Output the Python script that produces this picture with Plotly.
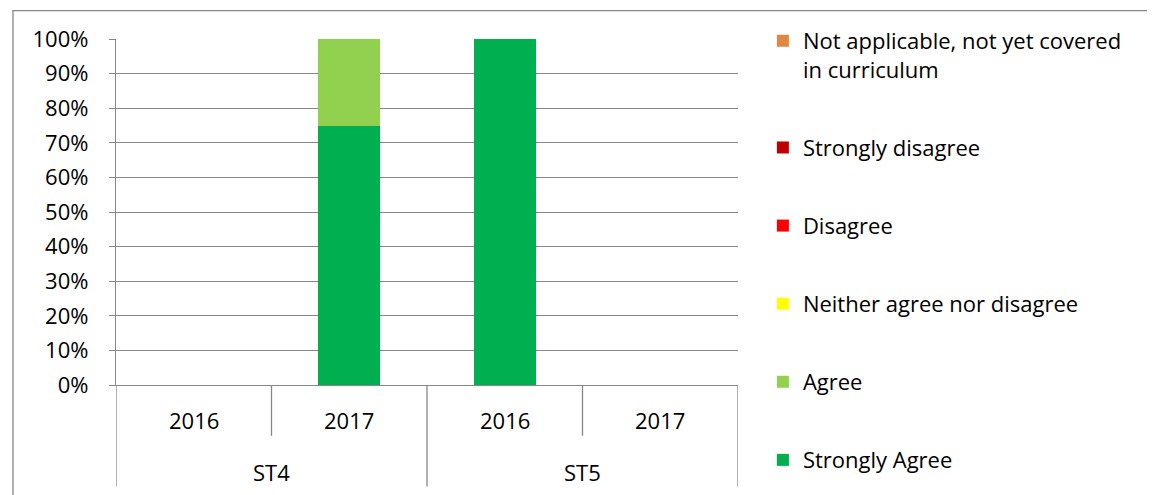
import plotly.graph_objects as go

# data
groups = ["ST4", "ST4", "ST5", "ST5"]
years = ["2016", "2017", "2016", "2017"]
responses = [
    "Strongly Agree",
    "Agree",
    "Neither agree nor disagree",
    "Disagree",
    "Strongly disagree",
    "Not applicable, not yet covered<br>in curriculum",
]
colors = ["#00B050", "#92D050", "#FFFF00", "#FF0000", "#C00000", "#E2873F"]
strongly_agree = [0.0, 0.75, 1.0, 0.0]
agree = [0.0, 0.25, 0.0, 0.0]
neither = [0.0, 0.0, 0.0, 0.0]
disagree = [0.0, 0.0, 0.0, 0.0]
strongly_disagree = [0.0, 0.0, 0.0, 0.0]
not_applicable = [0.0, 0.0, 0.0, 0.0]
series = [strongly_agree, agree, neither, disagree, strongly_disagree, not_applicable]

FONT = "Open Sans"
GRID = "#878787"
x_pos = list(range(len(years)))

fig = go.Figure()
for i, (name, vals, col) in enumerate(zip(responses, series, colors)):
    fig.add_trace(go.Bar(
        x=x_pos, y=vals, name=name, legendgroup=name,
        legendrank=len(responses) - i,
        marker=dict(color=col, line=dict(width=0)),
        width=0.4,
    ))

# category labels (two levels) under the axis
annotations = []
for i, yr in enumerate(years):
    annotations.append(dict(x=i, y=-0.1006, xref="x", yref="paper", text=yr,
                            yanchor="middle", showarrow=False))
group_names = list(dict.fromkeys(groups))
for g in group_names:
    idx = [i for i, v in enumerate(groups) if v == g]
    annotations.append(dict(x=sum(idx) / len(idx), y=-0.25, xref="x", yref="paper",
                            text=g, yanchor="middle", showarrow=False))

# divider lines between categories
shapes = []
for i in range(len(years) + 1):
    b = i - 0.5
    if i == 0 or i == len(years) or groups[i] != groups[i - 1]:
        y0 = -0.293
    else:
        y0 = -0.1466
    shapes.append(dict(type="line", xref="x", yref="paper", x0=b, x1=b, y0=0, y1=y0,
                       line=dict(color=GRID, width=1.3)))
# chart border
shapes.append(dict(type="rect", xref="paper", yref="paper",
                   x0=-0.1656, x1=1.7, y0=-0.4, y1=1.0819,
                   line=dict(color=GRID, width=1.3)))

fig.update_layout(
    width=1147, height=487,
    margin=dict(l=108, r=417, t=29, b=110),
    paper_bgcolor="white", plot_bgcolor="white",
    barmode="stack",
    font=dict(family=FONT, size=22, color="#000"),
    showlegend=True,
    legend=dict(x=1.04, y=1.055, xanchor="left", yanchor="top",
                traceorder="grouped", tracegroupgap=46.5, maxheight=1000,
                valign="top", font=dict(size=22)),
    xaxis=dict(range=[-0.5, 3.5], showticklabels=False, showgrid=False,
               zeroline=False, showline=True, linecolor=GRID, linewidth=1.3),
    yaxis=dict(range=[0, 1], dtick=0.1, tickformat=".0%", showgrid=True,
               gridcolor=GRID, gridwidth=1.3, zeroline=False, showline=True,
               linecolor=GRID, linewidth=1.3, ticks="outside", ticklen=6,
               tickcolor=GRID, ticklabelstandoff=16),
    annotations=annotations,
    shapes=shapes,
)

fig.write_html("out.html")
